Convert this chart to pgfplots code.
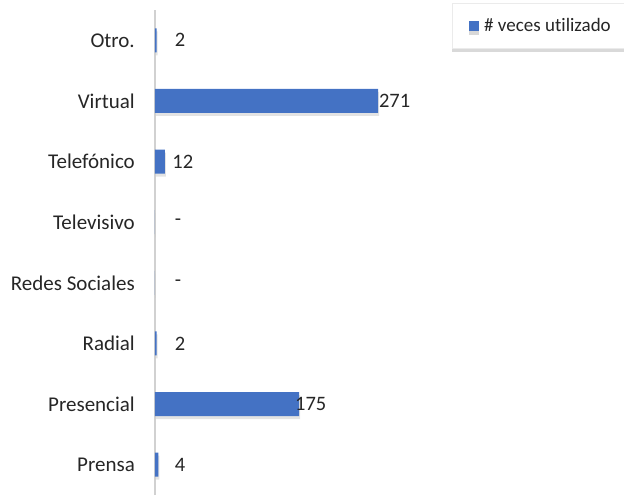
\documentclass[border=0pt]{standalone}
\usepackage{pgfplots}
\pgfplotsset{compat=1.18}
\usepackage{fontspec}
\setmainfont{Carlito}[Ligatures=NoCommon]
\usetikzlibrary{shadows}
\definecolor{barblue}{HTML}{4472C4}
\definecolor{txt}{HTML}{262626}
\begin{document}
\begin{tikzpicture}[x=1pt,y=1pt]
\useasboundingbox (0,0) rectangle (624,498);
\begin{axis}[
  at={(155pt,3pt)}, anchor=south west,
  scale only axis,
  width=246.9pt, height=485pt,
  xmin=0, xmax=300,
  ymin=-0.5, ymax=7.5,
  axis x line=none,
  axis y line*=left,
  y axis line style={draw=black!18, line width=1.2pt},
  major tick length=0pt,
  ytick={0,...,7},
  yticklabels={Prensa,Presencial,Radial,Redes Sociales,Televisivo,Telefónico,Virtual,Otro.},
  yticklabel style={font=\fontsize{21}{23}\selectfont, text=txt, inner sep=0pt, xshift=-20pt},
  clip=false,
  legend style={at={(rel axis cs:1.203,1.0144)}, anchor=north west,
    draw=black!8, fill=white, font=\fontsize{19}{21}\selectfont, text=txt,
    inner xsep=17pt, inner ysep=13pt,
    drop shadow={shadow xshift=0pt, shadow yshift=-4pt, opacity=0.3},
    legend cell align=left},
]
\addplot[xbar, bar width=24pt, draw=none, fill=barblue, forget plot,
  drop shadow={shadow xshift=1pt, shadow yshift=-3pt, opacity=0.22}]
  coordinates {(4,0) (175,1) (2,2) (0,3) (0,4) (12,5) (271,6) (2,7)};
\addlegendimage{draw=none, legend image code/.code={\fill[barblue] (0pt,-5pt) rectangle (10pt,5pt); \path (13pt,0pt);}}
\addlegendentry{\# veces utilizado}
\addplot[draw=none, mark=none, forget plot,
  nodes near coords={\pgfplotspointmeta}, point meta=explicit symbolic,
  every node near coord/.style={anchor=west, inner sep=0pt, text=txt, font=\fontsize{20.5}{22}\selectfont}]
  table[x=x, y=y, meta=lab] {
x y lab
24 0 4
170 1 175
24 2 2
24 3 -
24 4 -
21 5 12
272 6 271
24 7 2
};
\end{axis}
\end{tikzpicture}
\end{document}
